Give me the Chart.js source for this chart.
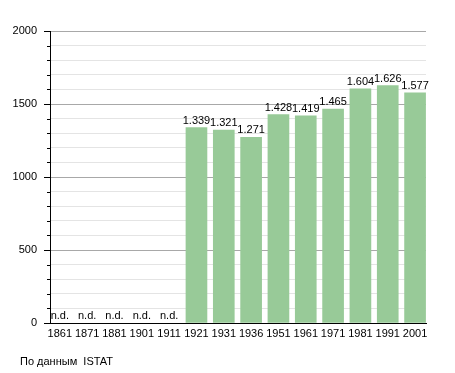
<!DOCTYPE html>
<html><head><meta charset="utf-8">
<script src="https://cdn.jsdelivr.net/npm/chart.js@4/dist/chart.umd.min.js"></script>
<style>
html,body{margin:0;padding:0;background:#fff;}
#wrap{position:relative;width:455px;height:373px;}
#note{position:absolute;left:20px;top:355px;font:11px "Liberation Sans",Arial,sans-serif;color:#000;}
</style></head>
<body>
<div id="wrap"><canvas id="c" width="455" height="373"></canvas><div id="note">По данным&nbsp; ISTAT</div></div>
<script>
const years = ["1861","1871","1881","1901","1911","1921","1931","1936","1951","1961","1971","1981","1991","2001"];
const population = [null,null,null,null,null,1339,1321,1271,1428,1419,1465,1604,1626,1577];
const yMax = 2000;
const majorStep = 500;
const minorStep = 100;

const FONT = '"Liberation Sans", Arial, sans-serif';

const points = population.map((v, i) => ({ x: i, y: v }));

const labelPlugin = {
  id: 'labels',
  afterDatasetsDraw(chart) {
    const ctx = chart.ctx;
    const xs = chart.scales.x, ys = chart.scales.y;
    ctx.save();
    ctx.font = '11px ' + FONT;
    ctx.fillStyle = '#000';
    ctx.textAlign = 'center';
    ctx.textBaseline = 'alphabetic';
    population.forEach((v, i) => {
      const x = xs.getPixelForValue(i);
      if (v === null) {
        ctx.fillText('n.d.', x, ys.getPixelForValue(0) - 4);
      } else {
        const s = v.toString().replace(/\B(?=(\d{3})+(?!\d))/g, '.');
        ctx.fillText(s, x, ys.getPixelForValue(v) - 4);
      }
    });
    ctx.restore();
  },
  afterDraw(chart) {
    const ctx = chart.ctx;
    const ys = chart.scales.y;
    const left = chart.chartArea.left;
    ctx.save();
    ctx.strokeStyle = '#000';
    ctx.lineWidth = 1;
    for (let v = 0; v <= yMax; v += minorStep) {
      const y = Math.round(ys.getPixelForValue(v)) + 0.5;
      const len = (v % majorStep === 0) ? 6 : 3;
      ctx.beginPath();
      ctx.moveTo(left - len, y);
      ctx.lineTo(left, y);
      ctx.stroke();
    }
    ctx.restore();
  }
};

new Chart(document.getElementById('c'), {
  type: 'bar',
  data: {
    datasets: [{
      data: points,
      backgroundColor: '#98ca98',
      borderWidth: 0,
      barThickness: 21
    }]
  },
  options: {
    responsive: false,
    animation: false,
    layout: { padding: { top: 31, right: 29, left: 0, bottom: 0 } },
    plugins: { legend: { display: false }, tooltip: { enabled: false }, title: { display: false } },
    scales: {
      x: {
        type: 'linear',
        min: -0.36,
        max: 13.4,
        offset: false,
        grid: { display: false, drawTicks: false, offset: false },
        border: { display: true, color: '#000', width: 1 },
        ticks: {
          stepSize: 1,
          includeBounds: false,
          autoSkip: false,
          maxRotation: 0,
          color: '#000',
          font: { size: 11, family: FONT },
          padding: 4,
          callback: (v) => (Number.isInteger(v) && years[v]) ? years[v] : ''
        },
        afterFit(s) { s.height = 50; }
      },
      y: {
        min: 0, max: yMax,
        grid: {
          drawTicks: false,
          color: (c) => (c.tick && c.tick.value % majorStep === 0) ? '#a8a8a8' : '#e4e4e4'
        },
        border: { display: true, color: '#000', width: 1 },
        ticks: {
          stepSize: minorStep,
          autoSkip: false,
          color: '#000',
          font: { size: 11, family: FONT },
          padding: 13,
          callback: (v) => (v % majorStep === 0) ? String(v) : ''
        },
        afterFit(s) { s.width = 50; }
      }
    }
  },
  plugins: [labelPlugin]
});
</script>
</body></html>
